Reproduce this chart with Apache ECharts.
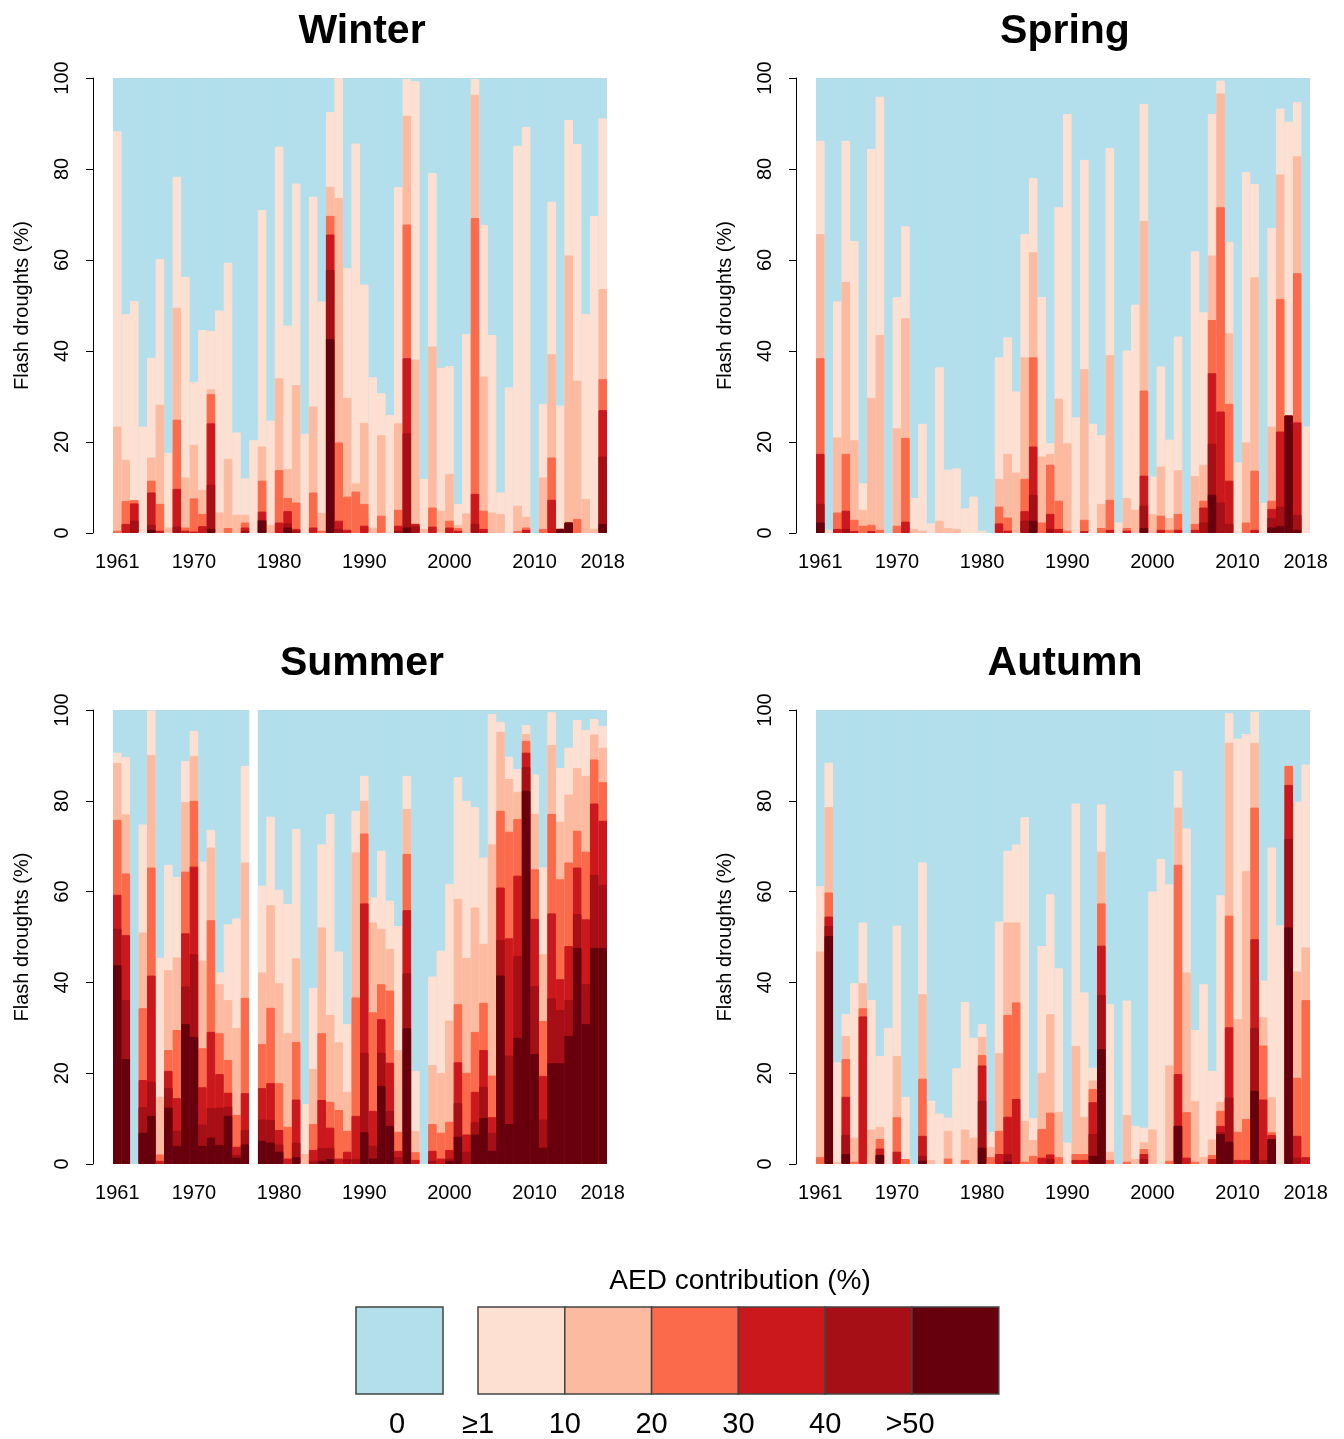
<!DOCTYPE html>
<html>
<head>
<meta charset="utf-8">
<script src="https://cdn.jsdelivr.net/npm/echarts@6/dist/echarts.min.js"></script>
<style>
html,body{margin:0;padding:0;background:#ffffff;}
#chart{width:1344px;height:1439px;}
</style>
</head>
<body>
<div id="chart"></div>
<script>
// ---------- categories & labels ----------
const years = [1961,1962,1963,1964,1965,1966,1967,1968,1969,1970,1971,1972,1973,1974,1975,1976,1977,1978,1979,1980,
  1981,1982,1983,1984,1985,1986,1987,1988,1989,1990,1991,1992,1993,1994,1995,1996,1997,1998,1999,2000,
  2001,2002,2003,2004,2005,2006,2007,2008,2009,2010,2011,2012,2013,2014,2015,2016,2017,2018];
const xTickLabels = ['1961','1970','1980','1990','2000','2010','2018'];
const seasons = ['Winter','Spring','Summer','Autumn'];
const legendTitle = 'AED contribution (%)';
const legendLabels = ['0','≥1','10','20','30','40','>50'];
const yAxisName = 'Flash droughts (%)';
// years without any flash drought (drawn empty)
const noDataYears = {Winter:[], Spring:[], Summer:[1977], Autumn:[]};

// ---------- data: cumulative share (%) of flash droughts with AED contribution >= level ----------
const winter_ge1 = [88.3,48.1,51.0,23.4,38.5,60.2,17.6,78.3,56.3,33.2,44.6,44.4,48.9,59.4,22.1,12.0,20.4,71.0,24.7,84.9,45.6,76.8,21.8,73.9,50.9,92.5,100,58.2,85.6,54.6,34.2,30.7,25.9,76.0,99.8,99.3,11.9,79.1,36.3,36.7,6.4,43.7,99.8,67.7,43.5,8.9,32.0,85.1,89.2,0,28.4,72.8,28.0,90.8,85.5,48.1,69.7,91.1];
const winter_ge10 = [23.4,16.1,7.3,0,16.6,28.2,1.2,49.5,12.2,19.4,9.5,31.6,4.5,16.3,4.0,4.0,0,19.0,1.8,34.0,14.1,32.5,0,27.8,4.4,76.1,73.6,29.7,10.9,24.2,1.2,21.5,0,24.1,91.7,38.1,0.9,41.0,4.9,13.0,1.8,4.3,96.3,34.4,4.5,4.2,0,6.0,3.6,0,12.2,39.3,0.9,61.0,33.5,7.5,0.9,53.6];
const winter_ge20 = [0.5,7.0,7.2,0,11.5,6.4,0,24.9,1.2,7.6,4.2,30.5,0,1.1,0,2.3,0,11.5,0,13.8,7.7,6.7,0,8.9,0.5,69.7,19.9,8.0,9.1,6.4,0,3.8,0,5.1,67.8,2.0,0,5.6,0,2.7,1.1,0,69.2,4.9,0,0,0,0.4,1.2,0,0.9,16.6,0.9,2.3,3.1,0,0,33.8];
const winter_ge30 = [0,2.0,6.5,0,8.9,0.5,0,9.7,0.5,0.3,1.5,24.1,0,0,0,1.2,0,4.7,0,2.3,4.8,0.9,0,1.2,0,65.6,2.7,0.7,0,1.6,0,0,0,1.6,38.4,2.0,0,1.4,0,1.2,0.5,0,8.6,0.9,0,0,0,0,0.7,0,0,7.3,0.9,2.3,0,0,0,27.0];
const winter_ge40 = [0,0,2.7,0,1.8,0,0,1.4,0,0,0,10.6,0,0,0,0.5,0,2.9,0,0,2.1,0.5,0,0,0,57.8,0.9,0,0,0,0,0,0,0.5,21.9,1.5,0,0,0,0,0,0,2.0,0,0,0,0,0,0,0,0,0,0.9,2.3,0,0,0,16.8];
const winter_ge50 = [0,0,0,0,0.7,0,0,0,0,0,0,0.9,0,0,0,0,0,2.7,0,0,1.2,0,0,0,0,42.6,0,0,0,0,0,0,0,0,1.2,0,0,0,0,0,0,0,0,0,0,0,0,0,0,0,0,0,0.9,2.3,0,0,0,2.0];

const spring_ge1 = [86.2,0.7,50.9,86.2,64.2,10.9,84.4,95.9,0,51.8,67.4,7.7,24.0,2.1,36.4,13.9,14.2,5.4,8.0,0.5,0,38.6,43.0,31.1,65.7,78.0,51.9,19.7,71.6,92.1,25.4,82.0,24.0,21.5,84.6,2.3,40.1,50.2,94.3,12.4,36.6,20.5,43.2,0,61.9,48.5,92.1,99.4,64.0,15.5,79.3,76.7,6.6,67.0,93.3,90.4,94.7,23.4];
const spring_ge10 = [65.7,0,21.0,55.2,20.4,5.1,29.7,43.5,0,23.0,47.2,0.9,0.5,0,2.7,1.1,0.9,0,0,0,0,11.9,17.4,13.3,38.6,61.7,16.8,17.4,29.5,19.7,0,36.0,0,6.4,39.1,0,7.7,5.1,68.6,4.2,14.6,3.3,13.8,0,12.5,15.0,61.0,96.6,43.9,0,19.9,56.2,0,23.4,78.8,25.8,82.8,0];
const spring_ge20 = [38.4,0,4.5,17.4,2.9,1.6,1.8,0.7,0,1.6,20.9,0,0,0,0,0,0,0,0,0,0,5.8,3.4,0,11.9,38.6,2.3,15.0,7.1,0.5,0,2.9,0,1.1,7.3,0,1.1,0,31.3,0,3.8,0.7,4.2,0,2.0,7.1,46.8,71.6,28.4,0,2.3,13.7,0,7.1,51.4,25.8,57.1,0];
const spring_ge30 = [17.4,0,0.9,4.9,0.4,0,0.4,0,0,0,2.5,0,0,0,0,0,0,0,0,0,0,2.1,0.5,0,4.8,19.0,0,4.2,0.9,0,0,0.4,0,0,0.7,0,0.5,0,12.6,0,0.7,0,0.7,0,0.7,5.6,35.1,26.7,11.5,0,0,0.7,0,5.3,22.3,25.8,24.3,0];
const spring_ge40 = [6.4,0,0,0.9,0,0,0,0,0,0,0,0,0,0,0,0,0,0,0,0,0,0,0,0,2.7,8.4,0,0.9,0,0,0,0,0,0,0,0,0,0,6.0,0,0,0,0,0,0,2.3,19.6,6.7,2.0,0,0,0,0,3.3,5.8,25.8,4.0,0];
const spring_ge50 = [2.3,0,0,0,0,0,0,0,0,0,0,0,0,0,0,0,0,0,0,0,0,0,0,0,0,2.7,0,0,0,0,0,0,0,0,0,0,0,0,1.1,0,0,0,0,0,0,0,8.4,0,0,0,0,0,0,1.2,1.5,25.8,0.7,0];

const summer_ge1 = [90.6,89.6,0,74.8,99.9,45.4,65.9,63.2,88.8,95.4,66.6,73.6,42.2,52.8,54.1,87.7,0,61.3,76.5,60.4,57.3,73.8,13.2,38.8,70.4,77.1,46.8,30.8,77.8,85.5,58.7,69.0,58.0,52.4,85.5,20.5,0,41.3,47.0,61.7,85.2,80.0,78.6,67.5,99.1,97.4,89.7,87.0,96.7,85.8,65.3,99.5,87.2,91.7,97.8,95.6,98.0,96.5];
const summer_ge10 = [88.3,77.0,0,51.0,90.1,14.8,42.7,45.5,79.7,89.9,44.8,69.7,39.6,36.1,30.0,66.4,0,42.2,57.0,39.8,28.8,45.3,2.2,20.9,52.1,32.8,26.8,15.9,68.6,80.0,53.2,51.8,47.4,25.1,78.2,7.3,0,21.8,20.0,31.6,58.4,45.4,56.5,48.5,70.4,95.2,84.8,82.0,94.7,77.1,46.2,92.3,75.4,81.4,87.2,85.5,94.6,91.7];
const summer_ge20 = [75.8,64.0,0,34.3,65.3,2.1,25.1,29.5,64.4,80.0,25.5,53.7,28.8,22.9,10.8,36.6,0,26.4,34.4,17.8,8.2,26.9,0,8.8,28.8,13.7,11.9,7.3,36.7,72.8,33.4,39.6,38.2,7.1,68.3,2.6,0,8.8,6.9,9.3,35.2,20.1,29.1,35.5,19.5,77.8,73.2,76.0,93.2,64.9,31.5,77.1,62.7,66.4,73.4,68.8,89.1,84.1];
const summer_ge30 = [59.3,50.4,0,18.5,41.5,0.7,20.5,14.5,50.8,65.5,16.9,29.1,19.8,15.7,3.8,15.6,0,16.7,17.8,7.5,1.2,14.2,0,3.1,14.1,8.0,1.2,2.7,10.6,57.4,11.7,31.9,22.3,2.9,55.9,0.9,0,2.9,1.2,3.1,22.4,6.5,15.9,25.1,10.3,60.9,49.7,63.5,90.6,54.0,19.4,55.2,40.7,48.0,65.3,53.9,79.4,75.6];
const summer_ge40 = [51.8,36.1,0,12.5,18.1,0,16.7,7.3,39.1,46.2,8.7,12.3,12.4,12.6,2.0,7.5,0,9.8,9.7,4.3,0,4.7,0,0.7,3.5,3.5,0,1.1,1.1,24.5,4.0,24.5,11.7,1.5,42.0,0,0,0.7,0,1.2,13.4,2.7,9.2,17.0,6.9,49.3,23.9,45.8,87.4,39.2,9.8,36.5,33.9,36.1,55.0,39.6,63.7,61.5];
const summer_ge50 = [43.8,23.1,0,6.9,10.6,0,12.4,4.0,30.8,28.0,4.0,5.8,4.2,10.6,1.4,4.3,0,5.1,4.7,2.7,0,1.5,0,0,0.7,1.1,0,0,0,7.0,1.2,17.2,8.4,0,29.9,0,0,0,0,0.7,6.0,0,6.5,10.1,2.9,41.5,8.8,27.8,82.2,24.2,3.6,22.2,22.2,28.2,47.6,30.8,47.6,47.6];

const autumn_ge1 = [61.2,88.4,22.4,33.0,39.8,53.2,36.1,23.8,30.0,52.5,14.8,0,66.4,13.9,11.1,10.2,21.1,35.7,27.8,30.8,7.0,53.4,69.0,70.4,76.4,10.1,48.0,59.4,43.1,4.7,79.4,37.8,21.2,79.2,35.2,0,36.0,8.4,8.0,60.0,67.2,61.6,86.6,73.9,29.5,39.6,20.5,59.2,99.3,93.7,94.7,99.6,40.4,69.7,52.6,87.7,79.8,88.0];
const autumn_ge10 = [46.8,78.6,0.4,28.2,5.8,39.8,7.6,8.2,0,23.8,1.1,0,37.4,0.9,0,7.3,0,7.6,5.8,28.0,3.7,24.4,53.2,53.2,9.5,5.3,20.1,33.0,11.5,0,26.0,10.4,18.4,68.8,2.7,0,10.8,1.1,4.8,7.6,0,21.7,78.5,42.2,13.9,1.6,5.4,13.7,92.8,31.9,64.5,92.8,32.3,14.7,0,87.7,42.4,47.7];
const autumn_ge20 = [1.5,59.8,0,23.1,0.5,34.3,0,5.5,0,10.3,1.1,0,18.8,0,0,1.2,0,0.9,0,24.0,1.5,7.3,32.8,35.6,0.5,1.8,7.7,11.3,1.5,0,2.2,2.2,16.5,57.4,0.9,0,0.5,0,3.3,0,0,0.7,65.9,11.4,0.5,0,2.0,11.7,54.7,7.1,9.9,78.5,26.1,7.0,0,87.7,19.0,36.1];
const autumn_ge30 = [0,54.5,0,14.8,0,32.5,0,3.4,0,2.7,0,0,6.2,0,0,0,0,0,0,21.7,0,2.2,10.4,14.3,0,0,1.4,2.1,0,0,0.9,0.9,13.6,48.1,0,0,0,0,2.2,0,0,0,19.8,1.4,0,0,1.1,8.4,30.1,0.9,0.9,49.5,14.2,6.4,0,83.5,6.2,1.5];
const autumn_ge40 = [0,52.4,0,6.4,0,0,0,2.0,0,0,0,0,1.8,0,0,0,0,0,0,13.9,0,0,2.2,0,0,0,0,1.1,0,0,0,0,6.6,37.2,0,0,0,0,1.1,0,0,0,8.4,0,0,0,0,7.0,14.6,0,0,30.0,0.9,5.5,0,71.6,1.4,0];
const autumn_ge50 = [0,50.2,0,2.2,0,0,0,2.0,0,0,0,0,0.7,0,0,0,0,0,0,3.6,0,0,0.5,0,0,0,0,0,0,0,0,0,1.8,25.3,0,0,0,0,0,0,0,0,8.4,0,0,0,0,6.6,4.9,0,0,16.1,0,5.5,0,52.1,0,0];

// ---------- styling ----------
const colors = ['#b2dfeb','#fee0d2','#fcbba1','#fb6a4a','#cb181d','#a50f15','#67000d'];
const FONT = 'Liberation Sans, Arial, Helvetica, sans-serif';

const seasonLevels = {
  Winter: [winter_ge1, winter_ge10, winter_ge20, winter_ge30, winter_ge40, winter_ge50],
  Spring: [spring_ge1, spring_ge10, spring_ge20, spring_ge30, spring_ge40, spring_ge50],
  Summer: [summer_ge1, summer_ge10, summer_ge20, summer_ge30, summer_ge40, summer_ge50],
  Autumn: [autumn_ge1, autumn_ge10, autumn_ge20, autumn_ge30, autumn_ge40, autumn_ge50]
};

const gridPos = [
  {left:113, top:78, width:494, height:455},
  {left:816, top:78, width:494, height:455},
  {left:113, top:710, width:494, height:454},
  {left:816, top:710, width:494, height:454}
];
const titleTop = [6, 6, 638, 638];

const grids = [], xAxes = [], yAxes = [], series = [], titles = [];
seasons.forEach((s, p) => {
  const g = gridPos[p];
  // blue grid background hides anti-aliasing seams between adjacent bars
  grids.push(Object.assign({containLabel:false, show:true, backgroundColor: colors[0], borderWidth:0}, g));
  titles.push({
    text: s, left: g.left + g.width/2 - 3, top: titleTop[p], textAlign: 'center',
    textStyle: {fontSize: 41, fontWeight: 'bold', color: '#000', fontFamily: FONT}
  });
  xAxes.push({
    gridIndex: p, type: 'category', data: years.map(String),
    axisLine: {show:false}, axisTick: {show:false}, splitLine: {show:false},
    axisLabel: {
      interval: (i, v) => xTickLabels.indexOf(String(v)) >= 0,
      fontSize: 20, color: '#000', margin: 19, fontFamily: FONT
    }
  });
  yAxes.push({
    gridIndex: p, type: 'value', min: 0, max: 100, interval: 20, offset: 20,
    axisLine: {show:true, lineStyle:{color:'#000', width:1}},
    axisTick: {show:true, length:7, lineStyle:{color:'#000', width:1}},
    splitLine: {show:false},
    axisLabel: {rotate: 90, fontSize: 20, color: '#000', margin: 21, fontFamily: FONT},
    name: yAxisName, nameLocation: 'middle', nameGap: 61,
    nameTextStyle: {fontSize: 20, color: '#000', fontFamily: FONT}
  });
  const isNoData = years.map(y => noDataYears[s].indexOf(y) >= 0);
  const blue = isNoData.map(nd => nd ? null : 100);
  const empty = isNoData.map(nd => nd ? 100 : null);
  const levelData = [blue].concat(seasonLevels[s].map(arr => arr.map(v => v > 0 ? v : null)));
  levelData.forEach((d, k) => {
    series.push({
      type: 'bar', name: legendLabels[k], xAxisIndex: p, yAxisIndex: p,
      data: d, barWidth: '100%', barGap: '-100%', barCategoryGap: '0%',
      silent: true, animation: false,
      itemStyle: {color: colors[k], borderColor: colors[k], borderWidth: 1}
    });
  });
  // years with no flash droughts: empty (white) column
  series.push({
    type: 'bar', name: 'none', xAxisIndex: p, yAxisIndex: p,
    data: empty, barWidth: '100%', barGap: '-100%', barCategoryGap: '0%',
    silent: true, animation: false,
    itemStyle: {color: '#ffffff', borderWidth: 0}
  });
});

// ---------- legend (color key) ----------
const graphic = [];
graphic.push({type:'text', x:740, y:1281,
  style:{text: legendTitle, textAlign:'center', textVerticalAlign:'middle',
    fontSize: 28, fill:'#000', fontFamily: FONT}});
const boxTop = 1307, boxH = 87, boxW = 86.8;
const boxLefts = [356, 478, 478+boxW, 478+2*boxW, 478+3*boxW, 478+4*boxW, 478+5*boxW];
boxLefts.forEach((x, k) => {
  graphic.push({type:'rect', shape:{x:x, y:boxTop, width:(k===0?87:boxW), height:boxH},
    style:{fill: colors[k], stroke:'#444', lineWidth:1.5}});
});
const labelX = [397, 478, 478+boxW, 478+2*boxW, 478+3*boxW, 478+4*boxW, 478+5*boxW - 2];
legendLabels.forEach((t, k) => {
  graphic.push({type:'text', x:labelX[k], y:1425, style:{text:t, textAlign:'center', textVerticalAlign:'middle',
    fontSize: 29, fill:'#000', fontFamily: FONT}});
});

const chart = echarts.init(document.getElementById('chart'), null, {renderer:'canvas'});
chart.setOption({
  backgroundColor: '#ffffff',
  animation: false,
  title: titles,
  grid: grids,
  xAxis: xAxes,
  yAxis: yAxes,
  series: series,
  graphic: graphic,
  tooltip: {show:false}
});
</script>
</body>
</html>
